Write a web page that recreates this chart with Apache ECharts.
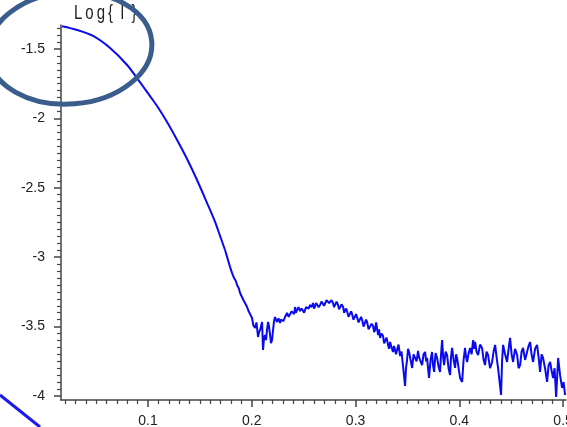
<!DOCTYPE html>
<html lang="en">
  <head>
    <meta charset="UTF-8" />
    <title>Log I</title>
    <script src="https://cdn.jsdelivr.net/npm/echarts@6/dist/echarts.min.js"></script>
    <style>
      html, body { margin: 0; padding: 0; background: #fff; }
    </style>
  </head>
  <body>
    <div id="main" style="width: 567px; height: 427px"></div>
  </body>
</html>
<script>
  // smooth low-q part of the curve
  var qSmooth = [
    0.0171, 0.0316, 0.047, 0.0634, 0.0798, 0.0904, 0.1019, 0.1087, 0.1183, 0.128,
    0.1376, 0.1472, 0.1569, 0.1646, 0.1694, 0.1742
  ]
  var logISmooth = [
    -1.336, -1.363, -1.406, -1.493, -1.615, -1.72, -1.839, -1.911, -2.026, -2.156,
    -2.293, -2.444, -2.61, -2.746, -2.847, -2.948
  ]

  // noisy high-q part
  var qNoisy = [
    0.1742, 0.179, 0.181, 0.1829, 0.1845, 0.1858, 0.1875, 0.1887, 0.1906,
    0.192, 0.1935, 0.1954, 0.197, 0.1983, 0.2002, 0.2015, 0.2031, 0.2045, 0.206,
    0.207, 0.208, 0.2099, 0.2108, 0.2118, 0.2128, 0.2137, 0.2147, 0.2157, 0.2166,
    0.2176, 0.2185, 0.2195, 0.2205, 0.2214, 0.2224, 0.2233, 0.2243, 0.2257, 0.2272,
    0.2282, 0.2292, 0.2306, 0.232, 0.233, 0.234, 0.2355, 0.2369, 0.2384, 0.2398,
    0.2408, 0.2417, 0.2426, 0.2436, 0.245, 0.2465, 0.248, 0.2494, 0.2504, 0.2513,
    0.2523, 0.2533, 0.2547, 0.2561, 0.2575, 0.259, 0.26, 0.261, 0.262, 0.2629,
    0.2644, 0.2658, 0.2672, 0.2687, 0.2697, 0.2706, 0.272, 0.2735, 0.2745, 0.2754,
    0.2768, 0.2783, 0.2793, 0.2802, 0.2817, 0.2831, 0.2841, 0.2851, 0.2865, 0.288,
    0.289, 0.2899, 0.2909, 0.2918, 0.2932, 0.2947, 0.2957, 0.2966, 0.298, 0.2995,
    0.3005, 0.3014, 0.3029, 0.3043, 0.3053, 0.3063, 0.3077, 0.3092, 0.3101, 0.3111,
    0.3125, 0.314, 0.3155, 0.3169, 0.3179, 0.3188, 0.3198, 0.3207, 0.3217, 0.3226,
    0.3236, 0.325, 0.3265, 0.3275, 0.3284, 0.3299, 0.3313, 0.3323, 0.3333, 0.3347,
    0.3361, 0.3371, 0.3381, 0.339, 0.34, 0.3414, 0.3429, 0.3443, 0.3458, 0.3477,
    0.3486, 0.3496, 0.3506, 0.3516, 0.353, 0.3545, 0.3559, 0.3573, 0.3588, 0.3602,
    0.3612, 0.3622, 0.3641, 0.3655, 0.367, 0.368, 0.3689, 0.3708, 0.3723, 0.3737,
    0.3747, 0.3757, 0.3771, 0.3786, 0.38, 0.3814, 0.3824, 0.3834, 0.3844, 0.3853,
    0.3868, 0.3882, 0.3896, 0.3911, 0.392, 0.393, 0.3945, 0.3959, 0.3969, 0.3978,
    0.3993, 0.4007, 0.4027, 0.4041, 0.4055, 0.4065, 0.4075, 0.409, 0.4104, 0.4118,
    0.4133, 0.4142, 0.4152, 0.4166, 0.4181, 0.42, 0.4219, 0.4234, 0.4248, 0.4262,
    0.4277, 0.4296, 0.4316, 0.433, 0.4345, 0.4359, 0.4373, 0.4402, 0.4412, 0.4422,
    0.4441, 0.446, 0.4475, 0.4489, 0.4504, 0.4518, 0.4537, 0.4557, 0.4571, 0.4586,
    0.46, 0.4614, 0.4634, 0.4653, 0.4667, 0.4682, 0.4696, 0.4711, 0.473, 0.4749,
    0.4764, 0.4778, 0.4793, 0.4807, 0.4826, 0.4846, 0.486, 0.4875, 0.489, 0.4904,
    0.4918, 0.4933, 0.4952, 0.4971, 0.499, 0.5005, 0.5019
  ]
  var logINoisy = [
    -2.948, -3.07, -3.115, -3.15, -3.17, -3.2, -3.225, -3.258, -3.272,
    -3.31, -3.33, -3.359, -3.39, -3.402, -3.438, -3.49, -3.51, -3.47, -3.575,
    -3.54, -3.524, -3.467, -3.669, -3.58, -3.561, -3.597, -3.52, -3.467, -3.5,
    -3.561, -3.62, -3.597, -3.524, -3.46, -3.431, -3.45, -3.467, -3.44, -3.474,
    -3.45, -3.438, -3.46, -3.431, -3.42, -3.402, -3.43, -3.416, -3.39, -3.38,
    -3.41, -3.359, -3.4, -3.38, -3.36, -3.388, -3.37, -3.359, -3.4, -3.388,
    -3.36, -3.352, -3.37, -3.344, -3.36, -3.33, -3.37, -3.352, -3.33, -3.323,
    -3.36, -3.344, -3.32, -3.308, -3.35, -3.344, -3.31, -3.301, -3.33, -3.337,
    -3.31, -3.33, -3.36, -3.359, -3.32, -3.344, -3.375, -3.373, -3.34, -3.359,
    -3.4, -3.402, -3.37, -3.388, -3.43, -3.424, -3.39, -3.409, -3.45, -3.438,
    -3.41, -3.424, -3.47, -3.467, -3.43, -3.452, -3.5, -3.488, -3.45, -3.467,
    -3.52, -3.517, -3.48, -3.496, -3.54, -3.524, -3.47, -3.481, -3.561, -3.52,
    -3.582, -3.55, -3.568, -3.62, -3.611, -3.58, -3.632, -3.66, -3.611, -3.65,
    -3.683, -3.64, -3.654, -3.7, -3.669, -3.63, -3.712, -3.68, -3.669, -3.928,
    -3.8, -3.741, -3.66, -3.683, -3.74, -3.798, -3.7, -3.705, -3.75, -3.676,
    -3.72, -3.741, -3.777, -3.7, -3.683, -3.75, -3.726, -3.87, -3.74, -3.683,
    -3.78, -3.827, -3.69, -3.726, -3.79, -3.827, -3.7, -3.597, -3.72, -3.777,
    -3.68, -3.705, -3.8, -3.849, -3.72, -3.654, -3.74, -3.798, -3.7, -3.726,
    -3.8, -3.87, -3.899, -3.74, -3.654, -3.72, -3.755, -3.69, -3.654, -3.7,
    -3.597, -3.66, -3.611, -3.68, -3.705, -3.63, -3.654, -3.74, -3.777, -3.68,
    -3.705, -3.8, -3.755, -3.68, -3.632, -3.72, -3.798, -3.993, -3.75, -3.632,
    -3.7, -3.755, -3.66, -3.582, -3.7, -3.755, -3.66, -3.705, -3.8, -3.777,
    -3.68, -3.654, -3.74, -3.726, -3.64, -3.611, -3.7, -3.755, -3.66, -3.632,
    -3.72, -3.827, -3.7, -3.726, -3.8, -3.899, -3.78, -3.755, -3.82, -3.87,
    -3.8, -4.007, -3.726, -3.85, -3.942, -3.9, -3.993
  ]

  var xTickLabels = [0.1, 0.2, 0.3, 0.4, 0.5]
  var yTickLabels = [-1.5, -2, -2.5, -3, -3.5, -4]

  var xMin = 0.0161, xMax = 0.5028
  var yMin = -4.029, yMax = -1.327

  // minor ticks every 0.01 on x and 0.05 on y
  var xMinor = []
  for (var i = 2; i <= 50; i++) {
    if (i % 10 !== 0) xMinor.push(i / 100)
  }
  var yMinor = []
  for (var j = 27; j <= 80; j++) {
    if (j % 10 !== 0) yMinor.push(-j / 20)
  }

  function toPairs(xs, ys) {
    return xs.map(function (x, k) {
      return [x, ys[k]]
    })
  }

  var axisColor = '#444'
  var lineColor = '#0a0aef'
  var labelStyle = { color: '#222', fontSize: 14, fontFamily: 'Liberation Sans, Arial, sans-serif' }

  var chartInstance = echarts.init(document.getElementById('main'))

  var option = {
    animation: false,
    backgroundColor: '#fff',
    grid: { left: 61, top: 25, width: 505, height: 375, containLabel: false, outerBoundsMode: 'none' },
    xAxis: [
      {
        type: 'value',
        min: xMin,
        max: xMax,
        axisLine: { show: true, lineStyle: { color: axisColor, width: 1.5 } },
        axisTick: { show: true, customValues: xTickLabels, length: 7, lineStyle: { color: axisColor, width: 1.5 } },
        axisLabel: Object.assign({ customValues: xTickLabels, margin: 14, showMaxLabel: true }, labelStyle),
        splitLine: { show: false }
      },
      {
        type: 'value',
        min: xMin,
        max: xMax,
        position: 'bottom',
        axisLine: { show: false },
        axisTick: { show: true, customValues: xMinor, length: 4, lineStyle: { color: axisColor, width: 1.2 } },
        axisLabel: { show: false },
        splitLine: { show: false }
      }
    ],
    yAxis: [
      {
        type: 'value',
        min: yMin,
        max: yMax,
        axisLine: { show: true, lineStyle: { color: axisColor, width: 1.5 } },
        axisTick: { show: true, customValues: yTickLabels, length: 7, lineStyle: { color: axisColor, width: 1.5 } },
        axisLabel: Object.assign({ customValues: yTickLabels, margin: 16 }, labelStyle),
        splitLine: { show: false }
      },
      {
        type: 'value',
        min: yMin,
        max: yMax,
        position: 'left',
        axisLine: { show: false },
        axisTick: { show: true, customValues: yMinor, length: 4, lineStyle: { color: axisColor, width: 1.2 } },
        axisLabel: { show: false },
        splitLine: { show: false }
      }
    ],
    series: [
      {
        type: 'line',
        data: toPairs(qSmooth, logISmooth),
        showSymbol: false,
        smooth: 0.3,
        lineStyle: { color: lineColor, width: 2 }
      },
      {
        type: 'line',
        data: toPairs(qNoisy, logINoisy),
        showSymbol: false,
        lineStyle: { color: lineColor, width: 2 }
      }
    ],
    graphic: [
      {
        type: 'text',
        left: 74,
        top: 4,
        scaleY: 1.3,
        style: {
          text: 'L\u2009o\u2009g\u2009{ \u2009I \u2009}',
          fill: '#222',
          font: '15px "Liberation Sans", Arial, sans-serif'
        }
      },
      {
        type: 'ellipse',
        shape: { cx: 70, cy: 48, rx: 82, ry: 56 },
        rotation: 0.08,
        originX: 70,
        originY: 48,
        style: { fill: 'none', stroke: '#3a5d8c', lineWidth: 5 },
        z: 100
      },
      {
        type: 'line',
        shape: { x1: 0, y1: 395, x2: 40, y2: 427 },
        style: { stroke: '#1a1aef', lineWidth: 3 },
        z: 100
      }
    ]
  }

  chartInstance.setOption(option)

  window.addEventListener('resize', () => {
    chartInstance.resize()
  })
</script>
